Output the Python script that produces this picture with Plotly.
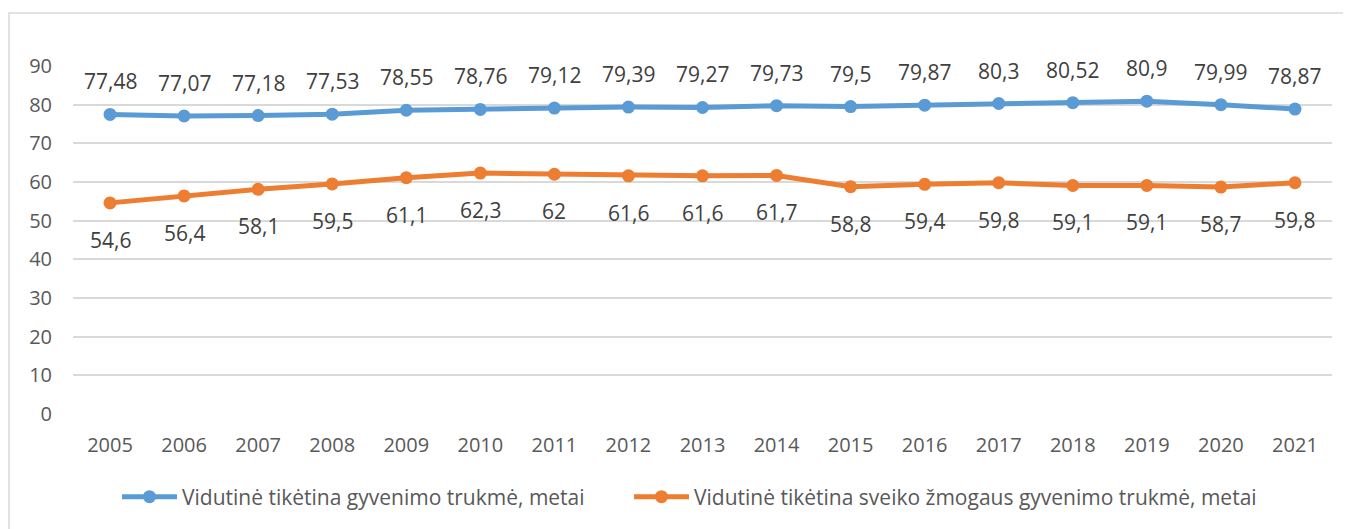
import plotly.graph_objects as go

years = ["2005","2006","2007","2008","2009","2010","2011","2012","2013","2014","2015","2016","2017","2018","2019","2020","2021"]
life = [77.48,77.07,77.18,77.53,78.55,78.76,79.12,79.39,79.27,79.73,79.5,79.87,80.3,80.52,80.9,79.99,78.87]
healthy = [54.6,56.4,58.1,59.5,61.1,62.3,62,61.6,61.6,61.7,58.8,59.4,59.8,59.1,59.1,58.7,59.8]
name_life = "Vidutinė tikėtina gyvenimo trukmė, metai"
name_healthy = "Vidutinė tikėtina sveiko žmogaus gyvenimo trukmė, metai"

def fmt(v):
    s = f"{v:.2f}".rstrip("0").rstrip(".")
    return s.replace(".", ",")

BLUE = "#5B9BD5"
ORANGE = "#ED7D31"
FONT = "Open Sans"
OFF = 8  # page body margin

fig = go.Figure()
fig.add_trace(go.Scatter(x=years, y=life, mode="lines+markers", name=name_life, legend="legend",
                         line=dict(color=BLUE, width=5), marker=dict(size=13, color=BLUE)))
fig.add_trace(go.Scatter(x=years, y=healthy, mode="lines+markers", name=name_healthy, legend="legend2",
                         line=dict(color=ORANGE, width=5), marker=dict(size=13, color=ORANGE)))

ann = []
for i, v in enumerate(life):
    ann.append(dict(x=i, y=v, xref="x", yref="y", text=fmt(v), showarrow=False, yshift=33,
                    font=dict(size=21, color="#404040", family=FONT)))
for i, v in enumerate(healthy):
    ann.append(dict(x=i, y=v, xref="x", yref="y", text=fmt(v), showarrow=False, yshift=-37,
                    font=dict(size=21, color="#404040", family=FONT)))

W, H = 1351 - OFF, 529 - OFF
ml = 73 - OFF
mt = 66 - OFF
mr = W - (1332 - OFF)
mb = H - (414 - OFF)
pw, ph = W - ml - mr, H - mt - mb
def px2paper_x(p): return (p - OFF - ml) / pw
def px2paper_y(p): return (H - mb - (p - OFF)) / ph

leg_common = dict(orientation="h", xanchor="left", yanchor="middle", y=px2paper_y(497),
                  font=dict(size=21, color="#595959", family=FONT), itemwidth=55,
                  bgcolor="rgba(0,0,0,0)")

fig.update_layout(
    width=W, height=H,
    margin=dict(l=ml, r=mr, t=mt, b=mb),
    paper_bgcolor="white", plot_bgcolor="white",
    font=dict(family=FONT, size=20, color="#595959"),
    annotations=ann,
    showlegend=True,
    legend=dict(x=px2paper_x(120 - 3), **leg_common),
    legend2=dict(x=px2paper_x(632 - 3), **leg_common),
    shapes=[dict(type="rect", xref="paper", yref="paper",
                 x0=px2paper_x(9), y0=px2paper_y(540), x1=px2paper_x(1360), y1=px2paper_y(13),
                 line=dict(color="#d9d9d9", width=1.5), fillcolor="rgba(0,0,0,0)", layer="below")],
    xaxis=dict(type="category", range=[-0.5, 16.5], showgrid=False, showline=False,
               ticks="", tickfont=dict(size=20, color="#595959"), ticklabelstandoff=17),
    yaxis=dict(range=[0, 90], dtick=10, showgrid=True, gridcolor="#d9d9d9", gridwidth=1.5,
               zeroline=False, showline=False, ticks="", tickfont=dict(size=20, color="#595959"),
               ticklabelstandoff=20),
)

fig.write_html("out.html")
